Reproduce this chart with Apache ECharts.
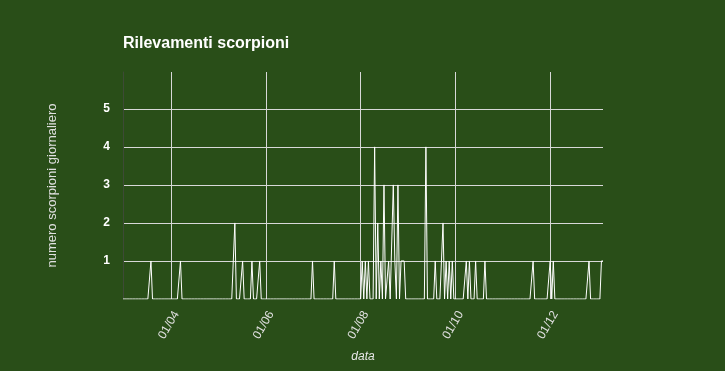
<!DOCTYPE html>
<html>
<head>
<meta charset="utf-8">
<script src="https://cdn.jsdelivr.net/npm/echarts@6/dist/echarts.min.js"></script>
<style>
html,body{margin:0;padding:0;background:#294e18;}
#chart{width:725px;height:371px;}
</style>
</head>
<body>
<div id="chart"></div>
<script>
// Period covered (daily observations)
const startDate = '2013-03-01';
const endDate = '2014-01-04';
// Days with sightings (all other days: 0)
const sightingDates = [
  '2013-03-19','2013-04-07','2013-05-12','2013-05-17','2013-05-23','2013-05-28',
  '2013-07-01','2013-07-15',
  '2013-08-02','2013-08-04','2013-08-06','2013-08-10','2013-08-12','2013-08-14',
  '2013-08-16','2013-08-19','2013-08-22','2013-08-23','2013-08-25','2013-08-27',
  '2013-08-28','2013-08-29',
  '2013-09-12','2013-09-18','2013-09-23','2013-09-25','2013-09-27','2013-09-29',
  '2013-10-08','2013-10-10','2013-10-14','2013-10-20',
  '2013-11-20','2013-12-01','2013-12-03','2013-12-26','2014-01-03','2014-01-04'
];
const sightingCounts = [
  1,1,2,1,1,1,
  1,1,
  1,1,1,4,2,1,
  3,1,3,1,3,1,
  1,1,
  4,1,2,1,1,1,
  1,1,1,1,
  1,1,1,1,1,1
];
const tickLabels = ['01/04','01/06','01/08','01/10','01/12'];
const yTicks = [1,2,3,4,5];

// build daily categories and values
const counts = {};
sightingDates.forEach((d,i)=>{counts[d]=sightingCounts[i];});
const categories = [];
const values = [];
let t = Date.parse(startDate+'T00:00:00Z');
const tEnd = Date.parse(endDate+'T00:00:00Z');
while (t <= tEnd) {
  const s = new Date(t).toISOString().slice(0,10);
  categories.push(s);
  values.push(counts[s] !== undefined ? counts[s] : 0);
  t += 86400000;
}
function fmt(v){ return v.slice(8,10)+'/'+v.slice(5,7); }
function isTick(i, v){ return tickLabels.indexOf(fmt(v)) >= 0; }

const chart = echarts.init(document.getElementById('chart'), null, {renderer:'canvas'});
chart.setOption({
  backgroundColor: '#294e18',
  animation: false,
  title: {
    text: 'Rilevamenti scorpioni',
    left: 118, top: 31,
    textStyle: {color:'#ffffff', fontSize:16, fontWeight:'bold', fontFamily:'Liberation Sans, Arial, sans-serif'}
  },
  grid: {left:123, right:122, top:72, bottom:72, containLabel:false},
  xAxis: {
    type: 'category',
    data: categories,
    boundaryGap: false,
    name: 'data',
    nameLocation: 'middle',
    nameGap: 52,
    nameTextStyle: {color:'#e8e8e8', fontSize:12, fontStyle:'italic', fontFamily:'Liberation Sans, Arial, sans-serif'},
    axisLine: {show:false},
    axisTick: {show:false},
    axisLabel: {
      interval: isTick,
      formatter: fmt,
      rotate: 60,
      margin: 10,
      verticalAlign: 'top',
      color: '#e0e0e0',
      fontSize: 12,
      fontFamily: 'Liberation Sans, Arial, sans-serif'
    },
    splitLine: {show:true, interval: isTick, lineStyle:{color:'#d8d8d8', width:1}}
  },
  yAxis: {
    type: 'value',
    min: 0,
    max: 5.97,
    interval: 1,
    name: 'numero scorpioni giornaliero',
    nameLocation: 'middle',
    nameGap: 64,
    nameTextStyle: {color:'#e0e0e0', fontSize:13, fontFamily:'Liberation Sans, Arial, sans-serif'},
    axisLine: {show:true, lineStyle:{color:'#3d4a36', width:1}},
    axisTick: {show:false},
    axisLabel: {
      color:'#ffffff', fontWeight:'bold', fontSize:12, margin:13,
      fontFamily:'Liberation Sans, Arial, sans-serif',
      formatter: v => (yTicks.indexOf(v) >= 0 ? String(v) : '')
    },
    splitLine: {show:true, showMaxLine:false, showMinLine:false, lineStyle:{color:'#d8d8d8', width:1}}
  },
  series: [{
    type: 'line',
    data: values,
    showSymbol: false,
    symbol: 'none',
    lineStyle: {color:'#ffffff', width:1},
    itemStyle: {color:'#ffffff'}
  }]
});
</script>
</body>
</html>
